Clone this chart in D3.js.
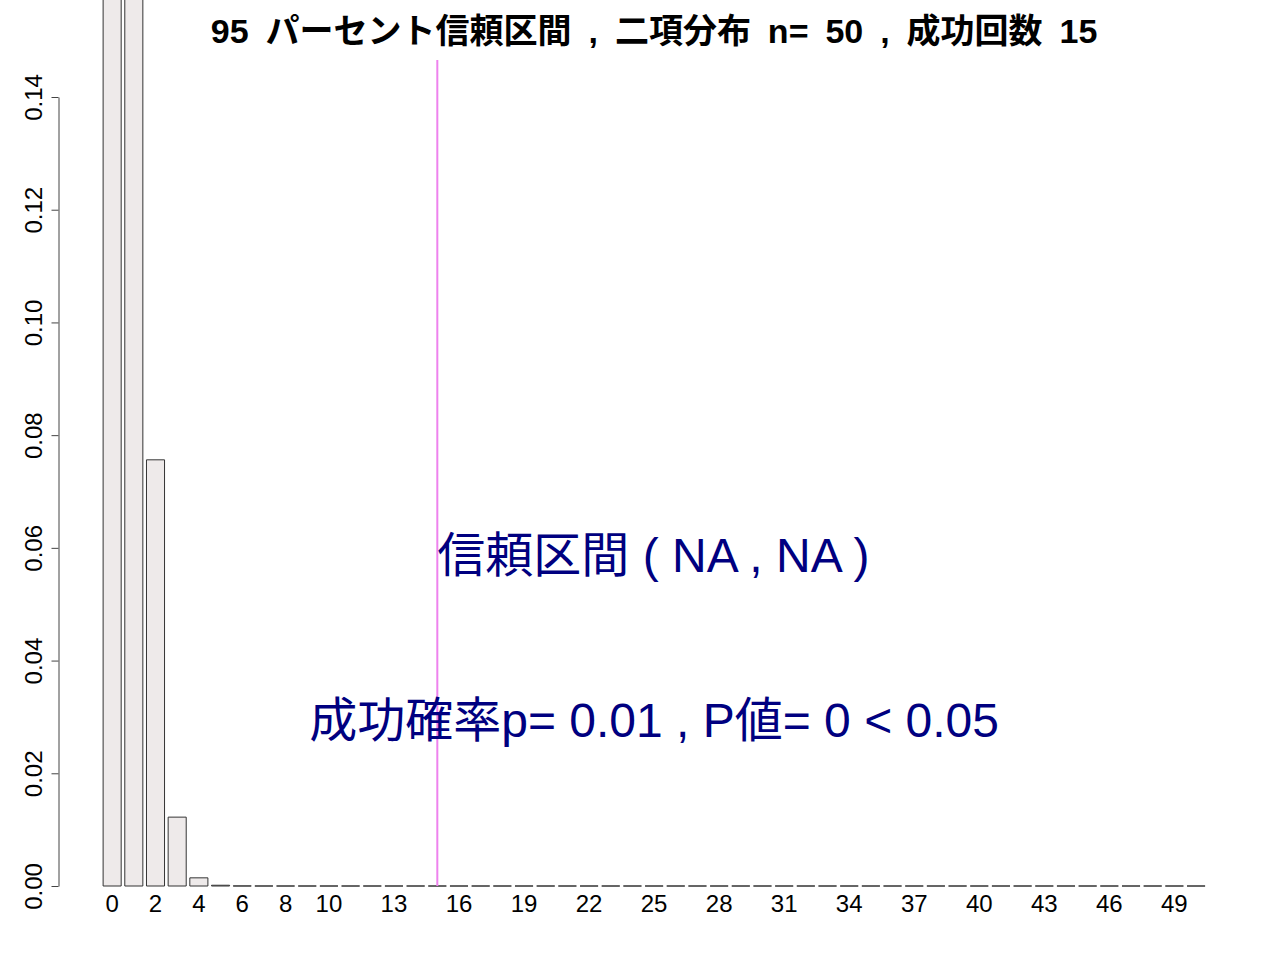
<!DOCTYPE html>
<html>
<head>
<meta charset="utf-8">
<script src="https://cdn.jsdelivr.net/npm/d3@7"></script>
<style>
  html, body { margin: 0; padding: 0; background: #fff; }
  svg { display: block; }
  text { font-family: "Liberation Sans", Arial, "Noto Sans CJK JP", sans-serif; }
</style>
</head>
<body>
<svg id="chart" width="1280" height="960"></svg>
<script>
// ---- data ----
const categories = [0,1,2,3,4,5,6,7,8,9,10,11,12,13,14,15,16,17,18,19,20,21,22,23,24,25,
  26,27,28,29,30,31,32,33,34,35,36,37,38,39,40,41,42,43,44,45,46,47,48,49,50];
const probs = [0.6050, 0.3056, 0.07562, 0.01222, 0.001450, 0.0001348, 0.00001022, 0.00000065,
  0, 0, 0, 0, 0, 0, 0, 0, 0, 0, 0, 0, 0, 0, 0, 0, 0, 0, 0, 0, 0, 0, 0, 0, 0, 0, 0, 0,
  0, 0, 0, 0, 0, 0, 0, 0, 0, 0, 0, 0, 0, 0, 0];
const xTickLabels = [0, 2, 4, 6, 8, 10, 13, 16, 19, 22, 25, 28, 31, 34, 37, 40, 43, 46, 49];
const yTicks = [0, 0.02, 0.04, 0.06, 0.08, 0.10, 0.12, 0.14];
const successCount = 15;
const titleText = "95 パーセント信頼区間 , 二項分布 n= 50 , 成功回数 15";
const ciText = "信頼区間 ( NA , NA )";
const pText = "成功確率p= 0.01 , P値= 0 < 0.05";

// ---- layout ----
const plotLeft = 59, plotRight = 1249.2, plotTop = 60, baseY = 886, topTickY = 97;

const svg = d3.select("#chart");

const x = d3.scaleBand()
  .domain(categories)
  .range([plotLeft, plotRight])
  .paddingInner(1 / 6)
  .paddingOuter(2.035);

const y = d3.scaleLinear().domain([0, 0.14]).range([baseY, topTickY]);

// bars (as closed paths so zero-height bars still show their outline)
svg.append("g")
  .selectAll("path")
  .data(categories)
  .join("path")
  .attr("d", (d, i) => {
    const x0 = x(d), x1 = x(d) + x.bandwidth();
    const y0 = y(0), y1 = y(probs[i]);
    return `M${x0},${y0}H${x1}V${y1}H${x0}Z`;
  })
  .attr("fill", "#EEEAEA")
  .attr("stroke", "#333")
  .attr("stroke-width", 1);

// x tick labels
svg.append("g")
  .selectAll("text")
  .data(xTickLabels)
  .join("text")
  .attr("x", d => x(d) + x.bandwidth() / 2)
  .attr("y", 911.5)
  .attr("text-anchor", "middle")
  .attr("font-size", 24)
  .attr("fill", "#000")
  .text(d => d);

// y axis
const yAxis = d3.axisLeft(y)
  .tickValues(yTicks)
  .tickFormat(d3.format(".2f"))
  .tickSize(7)
  .tickSizeOuter(0);

const gy = svg.append("g")
  .attr("transform", `translate(${plotLeft - 0.5},0)`)
  .call(yAxis);
gy.select(".domain").attr("stroke", "#444");
gy.selectAll(".tick line").attr("stroke", "#444");
gy.selectAll(".tick text")
  .attr("font-family", "Liberation Sans, Arial, sans-serif")
  .attr("font-size", 24)
  .attr("fill", "#000")
  .attr("text-anchor", "middle")
  .attr("x", 0)
  .attr("y", -16.5)
  .attr("dy", 0)
  .attr("transform", "rotate(-90)");

// vertical marker line at success count
const lineX = x(successCount) + x.bandwidth() / 2;
svg.append("line")
  .attr("x1", lineX).attr("x2", lineX)
  .attr("y1", plotTop).attr("y2", y(0))
  .attr("stroke", "#EE82EE")
  .attr("stroke-width", 2);

// title
svg.append("text")
  .attr("x", (plotLeft + plotRight) / 2)
  .attr("y", 43)
  .attr("text-anchor", "middle")
  .attr("font-size", 34)
  .attr("font-weight", "bold")
  .attr("fill", "#000")
  .style("white-space", "pre")
  .style("word-spacing", "7.5px")
  .text(titleText);

// annotations
svg.append("text")
  .attr("x", lineX)
  .attr("y", 572)
  .attr("text-anchor", "start")
  .attr("font-size", 48)
  .attr("fill", "#000080")
  .text(ciText);

svg.append("text")
  .attr("x", (plotLeft + plotRight) / 2)
  .attr("y", 737)
  .attr("text-anchor", "middle")
  .attr("font-size", 48)
  .attr("fill", "#000080")
  .text(pText);
</script>
</body>
</html>
